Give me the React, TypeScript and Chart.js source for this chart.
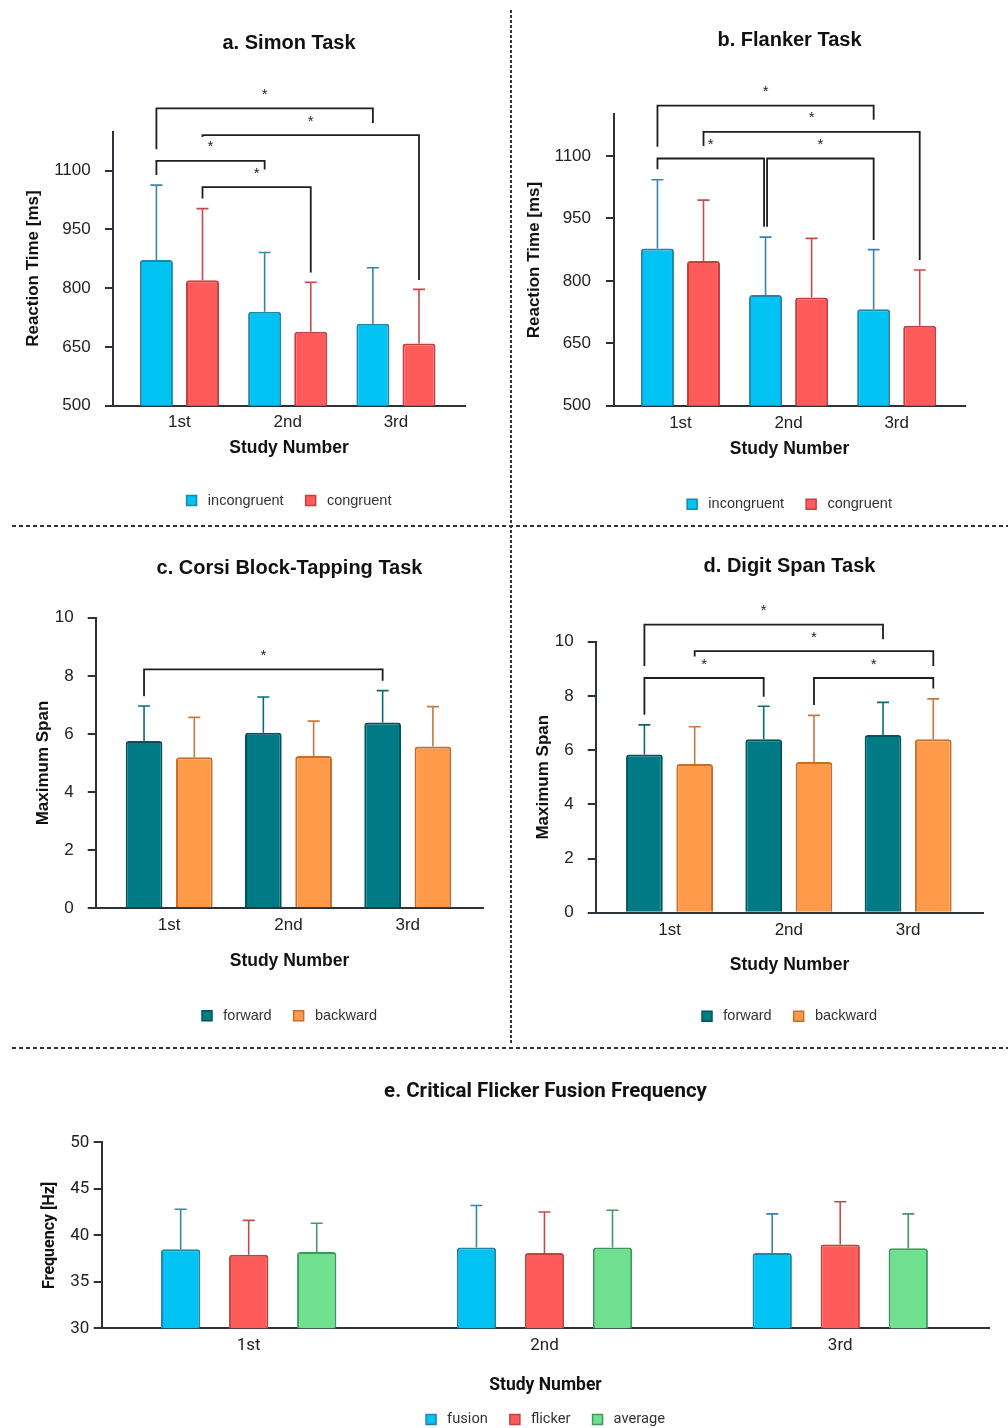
import React, { useEffect, useRef } from 'react';
import { Chart, registerables } from 'chart.js';

Chart.register(...registerables);

// ---------- shared ----------
const studyLabels = ['1st', '2nd', '3rd'];

// ---------- a. Simon Task ----------
const simonIncongruent = [872, 740, 709];
const simonIncongruentSD = [191, 151, 143];
const simonCongruent = [820, 689, 659];
const simonCongruentSD = [183, 126, 138];
const rtTicks = [500, 650, 800, 950, 1100];
// brackets: [category, dataset] to [category, dataset], bar level, leg ends (data units)
const simonBrackets = [
  { c1: 0, d1: 0, c2: 2, d2: 0, level: 1259, end1: 1155, end2: 1222 },
  { c1: 0, d1: 1, c2: 2, d2: 1, level: 1191, end1: 1186, end2: 821 },
  { c1: 0, d1: 0, c2: 1, d2: 0, level: 1125, end1: 1089, end2: 1103 },
  { c1: 0, d1: 1, c2: 1, d2: 1, level: 1058, end1: 1029, end2: 840 },
];

// ---------- b. Flanker Task ----------
const flankerIncongruent = [878, 766, 732];
const flankerIncongruentSD = [165, 139, 143];
const flankerCongruent = [848, 760, 692];
const flankerCongruentSD = [146, 142, 134];
const flankerBrackets = [
  { c1: 0, d1: 0, c2: 2, d2: 0, level: 1221, end1: 1122, end2: 1187 },
  { c1: 0, d1: 1, c2: 2, d2: 1, level: 1158, end1: 1124, end2: 850 },
  { c1: 0, d1: 0, c2: 1, d2: 0, level: 1094, end1: 1068, end2: 930 },
  { c1: 1, d1: 0, c2: 2, d2: 0, level: 1094, end1: 930, end2: 898 },
];

// ---------- c. Corsi ----------
const corsiForward = [5.76, 6.04, 6.39];
const corsiForwardSD = [1.2, 1.23, 1.1];
const corsiBackward = [5.2, 5.24, 5.57];
const corsiBackwardSD = [1.37, 1.2, 1.37];
const spanTicks = [0, 2, 4, 6, 8, 10];
const corsiBrackets = [
  { c1: 0, d1: 0, c2: 2, d2: 0, level: 8.22, end1: 7.3, end2: 7.83 },
];

// ---------- d. Digit Span ----------
const digitForward = [5.84, 6.4, 6.56];
const digitForwardSD = [1.09, 1.22, 1.2];
const digitBackward = [5.49, 5.56, 6.4];
const digitBackwardSD = [1.37, 1.72, 1.49];
const digitBrackets = [
  { c1: 0, d1: 0, c2: 2, d2: 0, level: 10.63, end1: 9.1, end2: 10.09 },
  { c1: 0, d1: 1, c2: 2, d2: 1, level: 9.65, end1: 9.45, end2: 9.1 },
  { c1: 0, d1: 0, c2: 1, d2: 0, level: 8.66, end1: 7.3, end2: 7.97 },
  { c1: 1, d1: 1, c2: 2, d2: 1, level: 8.66, end1: 7.66, end2: 8.27 },
];

// ---------- e. CFF ----------
const cffFusion = [38.5, 38.7, 38.1];
const cffFusionSD = [4.3, 4.5, 4.2];
const cffFlicker = [37.9, 38.1, 39.0];
const cffFlickerSD = [3.7, 4.4, 4.6];
const cffAverage = [38.2, 38.7, 38.6];
const cffAverageSD = [3.1, 4.0, 3.7];
const hzTicks = [30, 35, 40, 45, 50];

// ---------- styles ----------
const BLUE = { fill: '#00c2f3', border: '#1f86ab', err: '#3b83a6' };
const RED = { fill: '#ff5b5b', border: '#c2413f', err: '#c64a4a' };
const TEAL = { fill: '#007b85', border: '#00535b', err: '#0b6b74' };
const ORANGE = { fill: '#ff9a4a', border: '#c46f2e', err: '#c27a45' };
const GREEN = { fill: '#6fe090', border: '#3e9a5c', err: '#4f9466' };
const AXIS = '#2b323a';
const TEXT = '#222';
const ARIAL = '"Liberation Sans", Arial, sans-serif';
const ROBOTO = 'Roboto, "Liberation Sans", sans-serif';

type Bracket = { c1: number; d1: number; c2: number; d2: number; level: number; end1: number; end2: number };
type Series = { label: string; values: number[]; sd: number[]; style: { fill: string; border: string; err: string } };
type PanelCfg = {
  title: string;
  yTitle: string;
  family: string;
  series: Series[];
  brackets: Bracket[];
  yMin: number;
  yMax: number;
  yTicks: number[];
  xMin: number;
  xMax: number;
  catPct: number;
  barPct: number;
  x: number; y: number; w: number; h: number;
  l: number; t: number; r: number; b: number;
  titleY: number; yTitleX: number; xTickY: number; xTitleY: number; legendY: number; yTickGap: number;
  tickSize: number; yTitleSize: number; legendSize: number; titleSize: number; textShift: number;
};

const panels: PanelCfg[] = [
  {
    title: 'a. Simon Task', yTitle: 'Reaction Time [ms]', family: ARIAL,
    series: [
      { label: 'incongruent', values: simonIncongruent, sd: simonIncongruentSD, style: BLUE },
      { label: 'congruent', values: simonCongruent, sd: simonCongruentSD, style: RED },
    ],
    brackets: simonBrackets, yMin: 500, yMax: 1200, yTicks: rtTicks,
    xMin: -0.614, xMax: 2.638, catPct: 0.852, barPct: 0.717,
    x: 0, y: 0, w: 505, h: 522, l: 113, t: 131.5, r: 465, b: 405.7,
    titleY: 42, yTitleX: 33.5, xTickY: 421, xTitleY: 447, legendY: 499.3, yTickGap: 22.3,
    tickSize: 17, yTitleSize: 17, legendSize: 14.5, titleSize: 20, textShift: 1.3,
  },
  {
    title: 'b. Flanker Task', yTitle: 'Reaction Time [ms]', family: ARIAL,
    series: [
      { label: 'incongruent', values: flankerIncongruent, sd: flankerIncongruentSD, style: BLUE },
      { label: 'congruent', values: flankerCongruent, sd: flankerCongruentSD, style: RED },
    ],
    brackets: flankerBrackets, yMin: 500, yMax: 1200, yTicks: rtTicks,
    xMin: -0.615, xMax: 2.632, catPct: 0.852, barPct: 0.717,
    x: 513, y: 0, w: 495, h: 522, l: 614, t: 114.4, r: 965, b: 405.7,
    titleY: 39, yTitleX: 534, xTickY: 422, xTitleY: 448, legendY: 503, yTickGap: 23,
    tickSize: 17, yTitleSize: 17, legendSize: 14.5, titleSize: 20, textShift: 1.3,
  },
  {
    title: 'c. Corsi Block-Tapping Task', yTitle: 'Maximum Span', family: ARIAL,
    series: [
      { label: 'forward', values: corsiForward, sd: corsiForwardSD, style: TEAL },
      { label: 'backward', values: corsiBackward, sd: corsiBackwardSD, style: ORANGE },
    ],
    brackets: corsiBrackets, yMin: 0, yMax: 10, yTicks: spanTicks,
    xMin: -0.616, xMax: 2.633, catPct: 0.843, barPct: 0.73,
    x: 0, y: 530, w: 505, h: 515, l: 95.7, t: 617.7, r: 483.3, b: 908.3,
    titleY: 567, yTitleX: 43, xTickY: 924, xTitleY: 959, legendY: 1014, yTickGap: 22,
    tickSize: 17, yTitleSize: 17, legendSize: 14.5, titleSize: 20, textShift: 1.8,
  },
  {
    title: 'd. Digit Span Task', yTitle: 'Maximum Span', family: ARIAL,
    series: [
      { label: 'forward', values: digitForward, sd: digitForwardSD, style: TEAL },
      { label: 'backward', values: digitBackward, sd: digitBackwardSD, style: ORANGE },
    ],
    brackets: digitBrackets, yMin: 0, yMax: 10, yTicks: spanTicks,
    xMin: -0.619, xMax: 2.63, catPct: 0.843, barPct: 0.73,
    x: 513, y: 530, w: 495, h: 515, l: 595.7, t: 641.7, r: 983.3, b: 912.7,
    titleY: 565, yTitleX: 543, xTickY: 929, xTitleY: 964, legendY: 1015, yTickGap: 22,
    tickSize: 17, yTitleSize: 17, legendSize: 14.5, titleSize: 20, textShift: 1.3,
  },
  {
    title: 'e. Critical Flicker Fusion Frequency', yTitle: 'Frequency [Hz]', family: ROBOTO,
    series: [
      { label: 'fusion', values: cffFusion, sd: cffFusionSD, style: BLUE },
      { label: 'flicker', values: cffFlicker, sd: cffFlickerSD, style: RED },
      { label: 'average', values: cffAverage, sd: cffAverageSD, style: GREEN },
    ],
    brackets: [], yMin: 30, yMax: 50, yTicks: hzTicks,
    xMin: -0.497, xMax: 2.504, catPct: 0.69, barPct: 0.578,
    x: 0, y: 1052, w: 1008, h: 386, l: 101.7, t: 1142.3, r: 989.3, b: 1328.3,
    titleY: 1091, yTitleX: 49.7, xTickY: 1343, xTitleY: 1383, legendY: 1417, yTickGap: 12.4,
    tickSize: 17, yTitleSize: 16, legendSize: 14.7, titleSize: 20.5, textShift: 2.5,
  },
];

function errorBarPlugin(series: Series[]) {
  return {
    id: 'errorBars',
    afterDatasetsDraw(chart: any) {
      const ctx = chart.ctx;
      const ys = chart.scales.y;
      series.forEach((s, di) => {
        const meta = chart.getDatasetMeta(di);
        meta.data.forEach((el: any, i: number) => {
          const top = ys.getPixelForValue(s.values[i] + s.sd[i]);
          ctx.save();
          ctx.strokeStyle = s.style.err;
          ctx.lineWidth = 1.6;
          ctx.beginPath();
          ctx.moveTo(el.x, el.y);
          ctx.lineTo(el.x, top);
          ctx.moveTo(el.x - 6, top);
          ctx.lineTo(el.x + 6, top);
          ctx.stroke();
          ctx.restore();
        });
      });
    },
  };
}

function bracketPlugin(brackets: Bracket[], family: string) {
  return {
    id: 'sigBrackets',
    afterDraw(chart: any) {
      const ctx = chart.ctx;
      const ys = chart.scales.y;
      brackets.forEach((br, k) => {
        let n1 = 0;
        let n2 = 0;
        brackets.forEach((o, j) => {
          if (j === k || o.level !== br.level) return;
          if (o.c2 === br.c1 && o.d2 === br.d1) n1 = 1.5;
          if (o.c1 === br.c2 && o.d1 === br.d2) n2 = -1.5;
        });
        const x1 = chart.getDatasetMeta(br.d1).data[br.c1].x + n1;
        const x2 = chart.getDatasetMeta(br.d2).data[br.c2].x + n2;
        const yl = ys.getPixelForValue(br.level);
        const y1 = ys.getPixelForValue(br.end1);
        const y2 = ys.getPixelForValue(br.end2);
        ctx.save();
        ctx.strokeStyle = '#1e1e1e';
        ctx.lineWidth = 1.8;
        ctx.beginPath();
        ctx.moveTo(x1, y1);
        ctx.lineTo(x1, yl);
        ctx.lineTo(x2, yl);
        ctx.lineTo(x2, y2);
        ctx.stroke();
        ctx.fillStyle = '#1e1e1e';
        ctx.font = `15px ${family}`;
        ctx.textAlign = 'center';
        ctx.textBaseline = 'alphabetic';
        ctx.fillText('*', (x1 + x2) / 2, yl - 9.5);
        ctx.restore();
      });
    },
  };
}

function buildConfig(cfg: PanelCfg): any {
  const fam = cfg.family;
  const sh = cfg.textShift;
  const lhT = cfg.titleSize * 1.2;
  const lhA = cfg.yTitleSize * 1.2;
  const xTitleSize = 17.5;
  const lhX = xTitleSize * 1.2;
  const lhTick = cfg.tickSize * 1.2;
  const legendPad = 22;
  const itemH = Math.max(cfg.legendSize, 10);
  const titlePadTop = cfg.titleY + 1 - cfg.y - lhT / 2;
  const titlePadBottom = cfg.t - cfg.y - titlePadTop - lhT;
  const padLeft = cfg.yTitleX - cfg.x - (lhA / 2 + 4);
  const yWidth = cfg.l - cfg.x - padLeft;
  const padRight = cfg.x + cfg.w - cfg.r;
  const legendTop = cfg.legendY + sh - cfg.y - (legendPad + itemH / 2);
  const legendH = itemH + legendPad + 10;
  const padBottom = Math.max(0, cfg.h - (legendTop + legendH));
  const xHeight = legendTop - (cfg.b - cfg.y);
  const xTickPad = cfg.xTickY + sh - cfg.b - lhTick / 2;
  const xTitlePadBottom = legendTop - (cfg.xTitleY + sh - cfg.y) - lhX / 2;
  const yTickPad = cfg.yTickGap - 8;

  return {
    type: 'bar',
    data: {
      datasets: cfg.series.map((s) => ({
        label: s.label,
        data: s.values.map((v, i) => ({ x: i, y: v })),
        backgroundColor: s.style.fill,
        borderColor: s.style.border,
        borderWidth: 2,
        borderRadius: 3,
        borderSkipped: 'bottom',
        barPercentage: cfg.barPct,
        categoryPercentage: cfg.catPct,
      })),
    },
    options: {
      responsive: false,
      animation: false,
      events: [],
      layout: { padding: { top: 0, left: padLeft, right: padRight, bottom: padBottom } },
      plugins: {
        tooltip: { enabled: false },
        title: {
          display: true,
          text: cfg.title,
          fullSize: false,
          color: '#111',
          font: { family: fam, size: cfg.titleSize, weight: 'bold', lineHeight: 1.2 },
          padding: { top: titlePadTop, bottom: titlePadBottom },
        },
        legend: {
          position: 'bottom',
          fullSize: false,
          labels: {
            boxWidth: 10,
            boxHeight: 10,
            padding: legendPad,
            color: '#333',
            font: { family: fam, size: cfg.legendSize },
            generateLabels: (chart: any) =>
              Chart.defaults.plugins.legend.labels
                .generateLabels(chart)
                .map((it: any) => ({ ...it, text: ' ' + it.text, lineWidth: 1.5 })),
          },
        },
      },
      scales: {
        x: {
          type: 'linear',
          offset: false,
          min: cfg.xMin,
          max: cfg.xMax,
          afterFit: (s: any) => {
            s.height = xHeight;
          },
          afterBuildTicks: (s: any) => {
            s.ticks = studyLabels.map((_, i) => ({ value: i }));
          },
          ticks: {
            callback: (v: number) => studyLabels[Math.round(v)] ?? '',
            color: TEXT,
            font: { family: fam, size: cfg.tickSize, lineHeight: 1.2 },
            padding: xTickPad,
            maxRotation: 0,
            autoSkip: false,
          },
          grid: { display: false, drawTicks: false, tickLength: 0 },
          border: { display: true, color: AXIS, width: 2 },
          title: {
            display: true,
            text: 'Study Number',
            color: '#111',
            font: { family: fam, size: xTitleSize, weight: 'bold', lineHeight: 1.2 },
            padding: { top: 0, bottom: xTitlePadBottom },
          },
        },
        y: {
          min: cfg.yMin,
          max: cfg.yMax,
          afterFit: (s: any) => {
            s.width = yWidth;
          },
          afterBuildTicks: (s: any) => {
            s.ticks = cfg.yTicks.map((v) => ({ value: v }));
          },
          ticks: {
            callback: (v: number) => String(v),
            color: TEXT,
            font: { family: fam, size: cfg.tickSize, lineHeight: 1.2 },
            padding: yTickPad,
          },
          grid: { drawOnChartArea: false, drawTicks: true, tickLength: 8, color: AXIS, lineWidth: 2 },
          border: { display: true, color: AXIS, width: 2 },
          title: {
            display: true,
            text: cfg.yTitle,
            color: '#111',
            font: { family: fam, size: cfg.yTitleSize, weight: 'bold', lineHeight: 1.2 },
            padding: { top: 4, bottom: 4 },
          },
        },
      },
    },
    plugins: [errorBarPlugin(cfg.series), bracketPlugin(cfg.brackets, fam)],
  };
}

function Panel({ cfg }: { cfg: PanelCfg }) {
  const ref = useRef<HTMLCanvasElement>(null);
  useEffect(() => {
    const chart = new Chart(ref.current as HTMLCanvasElement, buildConfig(cfg));
    return () => chart.destroy();
  }, [cfg]);
  return (
    <canvas
      ref={ref}
      width={cfg.w}
      height={cfg.h}
      style={{ position: 'absolute', left: cfg.x, top: cfg.y, width: cfg.w, height: cfg.h }}
    />
  );
}

export default function App() {
  return (
    <div
      style={{
        position: 'absolute',
        left: 0,
        top: 0,
        width: 1008,
        height: 1428,
        overflow: 'hidden',
        background: '#fff',
      }}
    >
      <svg width={1008} height={1428} style={{ position: 'absolute', left: 0, top: 0 }}>
        <line x1={511} y1={10} x2={511} y2={1045} stroke="#333" strokeWidth={2} strokeDasharray="3 2" />
        <line x1={12} y1={526} x2={1008} y2={526} stroke="#333" strokeWidth={2} strokeDasharray="4 3" />
        <line x1={12} y1={1048} x2={1008} y2={1048} stroke="#333" strokeWidth={2} strokeDasharray="4 3" />
      </svg>
      {panels.map((p) => (
        <Panel key={p.title} cfg={p} />
      ))}
    </div>
  );
}
